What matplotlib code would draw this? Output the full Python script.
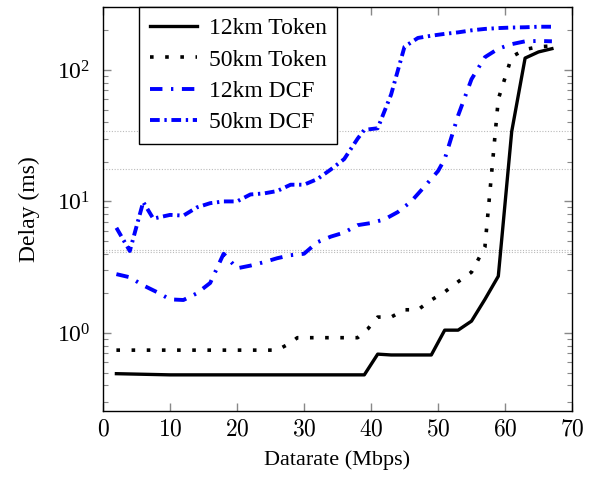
import numpy as np
import matplotlib
matplotlib.use('Agg')
import matplotlib.pyplot as plt
from matplotlib.ticker import LogLocator, NullFormatter, FuncFormatter

plt.rcParams['font.family'] = ['Liberation Serif', 'DejaVu Serif']
plt.rcParams['mathtext.fontset'] = 'cm'

# --- data
x_tok12 = [2, 10, 20, 30, 39, 41, 43, 45, 47, 49, 51, 53, 55, 57, 59, 61, 63, 65, 67]
y_tok12 = [0.49, 0.48, 0.48, 0.48, 0.48, 0.69, 0.68, 0.68, 0.68, 0.68, 1.05, 1.05, 1.23, 1.8, 2.7, 34, 123, 137, 145]

x_tok50 = [2, 10, 20, 26, 28, 29, 33, 38, 39.5, 41, 43, 45, 47, 49, 51, 53, 55, 57, 59, 61, 63, 65, 67]
y_tok50 = [0.74, 0.74, 0.74, 0.74, 0.84, 0.92, 0.92, 0.92, 1.07, 1.32, 1.32, 1.5, 1.5, 1.78, 2.05, 2.45, 2.9, 4.5, 60, 126, 143, 150, 152]

x_dcf12 = [2, 4, 6, 8, 10, 12, 14, 16, 18, 20, 22, 24, 26, 28, 30, 32, 34, 36, 38, 40, 42, 44, 46, 48, 50, 51, 53, 55, 57, 59, 61, 63, 65, 67]
y_dcf12 = [2.8, 2.65, 2.3, 2.05, 1.8, 1.78, 2.0, 2.4, 4.0, 3.1, 3.25, 3.45, 3.7, 3.9, 4.0, 4.9, 5.4, 5.8, 6.6, 6.85, 7.3, 8.3, 10, 13, 17, 21, 45, 85, 125, 145, 157, 165, 166, 165]

x_dcf50 = [2, 4, 6, 7.5, 10, 12, 14, 16, 18, 20, 22, 24, 26, 28, 30, 32, 34, 36, 38, 39, 41, 43, 45, 47, 49, 51, 53, 55, 57, 59, 61, 63, 65, 67]
y_dcf50 = [6.3, 4.2, 9.9, 7.4, 7.9, 7.8, 9.0, 9.7, 10, 10, 11.3, 11.5, 12, 13.4, 13.4, 14.8, 17.5, 21, 30, 35, 36, 65, 150, 175, 182, 188, 193, 200, 205, 208, 210, 211, 213, 213]

hlines = [34.3, 17.6, 4.25, 4.1]

fig = plt.figure(figsize=(5.93, 4.78), dpi=100)
ax = fig.add_axes([0.1737, 0.1402, 0.7909, 0.8452])

for h in hlines:
    ax.axhline(h, color='#bbbbbb', lw=0.8, ls=(0, (1, 1.5)), zorder=1)

ax.plot(x_tok12, y_tok12, color='k', lw=2.4, label='12km Token', zorder=3)
ax.plot(x_tok50, y_tok50, color='k', lw=2.6, dashes=(1, 3.2), dash_capstyle='butt',
        label='50km Token', zorder=3)
ax.plot(x_dcf12, y_dcf12, color='blue', lw=2.8, dashes=(3.2, 2.2, 0.6, 2.2),
        dash_capstyle='butt', label='12km DCF', zorder=3)
ax.plot(x_dcf50, y_dcf50, color='blue', lw=2.8, dashes=(2.5, 1.2, 0.6, 1.2),
        dash_capstyle='butt', label='50km DCF', zorder=3)

ax.set_yscale('log')
ax.set_xlim(0, 70)
ax.set_ylim(0.255, 301)
ax.set_xticks(np.arange(0, 71, 10))
ax.xaxis.set_major_formatter(FuncFormatter(lambda v, p: r'$%d$' % v))
ax.yaxis.set_major_locator(LogLocator(base=10, numticks=10))
ax.yaxis.set_minor_locator(LogLocator(base=10, subs=np.arange(2, 10), numticks=20))
ax.yaxis.set_minor_formatter(NullFormatter())

ax.tick_params(which='both', direction='in', top=True, right=True, color='#888888',
               labelsize=17)
ax.tick_params(axis='x', pad=6)
ax.tick_params(axis='y', pad=9)
ax.tick_params(which='major', length=6, width=1)
ax.tick_params(which='minor', length=3.5, width=0.8)
for s in ax.spines.values():
    s.set_linewidth(1.0)

ax.set_xlabel('Datarate (Mbps)', fontsize=16, labelpad=7)
ax.set_ylabel('Delay (ms)', fontsize=17, labelpad=12)

leg = ax.legend(loc='upper left', bbox_to_anchor=(0.077, 1.0), borderaxespad=0,
                fontsize=17, handlelength=2.0, handletextpad=0.5, labelspacing=0.42,
                fancybox=False, framealpha=1, edgecolor='k', borderpad=0.45)
leg.get_frame().set_linewidth(1.0)

fig.savefig('out.png', dpi=100)
